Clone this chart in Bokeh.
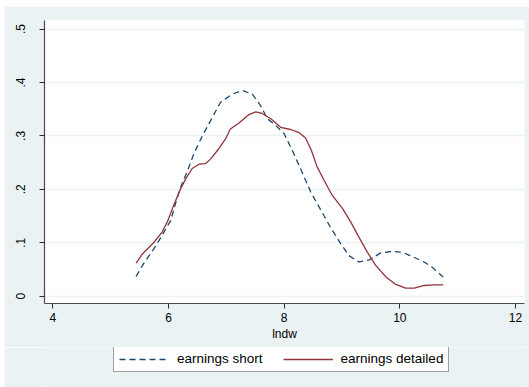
from bokeh.plotting import figure
from bokeh.layouts import column
from bokeh.models import Range1d, FixedTicker, Legend, LegendItem
from bokeh.embed import file_html
from bokeh.resources import INLINE

# earnings short (dashed, navy)
short_x = [5.44, 5.57, 5.75, 5.89, 6.04, 6.12, 6.21, 6.33, 6.44, 6.59, 6.73, 6.90, 7.10, 7.28, 7.45,
           7.59, 7.71, 7.85, 8.00, 8.14, 8.29, 8.46, 8.63, 8.80, 8.98, 9.12, 9.29, 9.47, 9.67, 9.87,
           10.05, 10.22, 10.42, 10.56, 10.75]
short_y = [0.037, 0.061, 0.089, 0.114, 0.142, 0.173, 0.204, 0.235, 0.267, 0.301, 0.329, 0.363, 0.378,
           0.385, 0.378, 0.357, 0.332, 0.320, 0.304, 0.273, 0.237, 0.195, 0.162, 0.129, 0.098, 0.076,
           0.064, 0.068, 0.081, 0.084, 0.082, 0.074, 0.064, 0.054, 0.036]

# earnings detailed (solid, maroon)
det_x = [5.44, 5.55, 5.75, 5.89, 5.98, 6.09, 6.21, 6.30, 6.41, 6.53, 6.64, 6.73, 6.87, 6.99, 7.07,
         7.22, 7.39, 7.51, 7.62, 7.77, 7.94, 8.11, 8.26, 8.37, 8.47, 8.57, 8.69, 8.83, 9.01, 9.15,
         9.29, 9.44, 9.58, 9.76, 9.93, 10.10, 10.25, 10.42, 10.59, 10.75]
det_y = [0.062, 0.079, 0.101, 0.120, 0.139, 0.170, 0.201, 0.220, 0.239, 0.247, 0.248, 0.257, 0.276,
         0.295, 0.313, 0.324, 0.340, 0.345, 0.342, 0.332, 0.316, 0.312, 0.306, 0.296, 0.273, 0.242,
         0.217, 0.189, 0.164, 0.139, 0.111, 0.082, 0.058, 0.036, 0.022, 0.015, 0.015, 0.020, 0.021,
         0.021]

x_ticks = [4, 6, 8, 10, 12]
y_ticks = [0, 0.1, 0.2, 0.3, 0.4, 0.5]
y_tick_labels = ["0", ".1", ".2", ".3", ".4", ".5"]

series_labels = ["earnings short", "earnings detailed"]
x_label = "lndw"

BG = "#eaf2f3"
NAVY = "#1a476f"
MAROON = "#90353b"
FONT = "Liberation Sans"
SHORT_STYLE = dict(line_color=NAVY, line_width=1.3, line_dash="6 4")
DET_STYLE = dict(line_color=MAROON, line_width=1.3)

p = figure(width=525, height=341, output_backend="svg", toolbar_location=None,
           x_range=Range1d(3.856, 12.156), y_range=Range1d(-0.0137, 0.516),
           min_border_left=40, min_border_top=14, min_border_right=5, min_border_bottom=44)
p.background_fill_color = "white"
p.border_fill_color = BG
p.outline_line_color = None

p.line(short_x, short_y, **SHORT_STYLE)
p.line(det_x, det_y, **DET_STYLE)

p.xaxis.ticker = FixedTicker(ticks=x_ticks)
p.yaxis.ticker = FixedTicker(ticks=y_ticks)
p.yaxis.major_label_overrides = {t: l for t, l in zip(y_ticks, y_tick_labels)}
p.yaxis.major_label_orientation = "vertical"
p.xaxis.axis_label = x_label

for ax in (p.xaxis, p.yaxis):
    ax.axis_line_color = "#4a4a4a"
    ax.axis_line_width = 1.2
    ax.major_tick_line_color = "#2a2a2a"
    ax.major_tick_in = 0
    ax.major_tick_out = 5
    ax.minor_tick_line_color = None
    ax.major_label_text_font = FONT
    ax.major_label_text_font_size = "12px"
    ax.major_label_text_color = "black"
    ax.axis_label_text_font = FONT
    ax.axis_label_text_font_size = "12px"
    ax.axis_label_text_font_style = "normal"
    ax.axis_label_text_color = "black"
p.xaxis.major_label_standoff = 4
p.yaxis.major_label_standoff = 14
p.xaxis.axis_label_standoff = 2

p.xgrid.grid_line_color = None
p.ygrid.grid_line_color = BG
p.ygrid.grid_line_width = 1.5

# legend strip below the plot (its frame is aligned with the plot's frame;
# the key lines lie outside this strip's ranges, so only the legend shows)
lg = figure(width=525, height=40, output_backend="svg", toolbar_location=None,
            x_range=Range1d(100, 101), y_range=Range1d(100, 101),
            x_axis_type=None, y_axis_type=None,
            min_border_left=0, min_border_right=0, min_border_top=0, min_border_bottom=0)
lg.background_fill_color = BG
lg.border_fill_color = BG
lg.outline_line_color = None
lg.grid.visible = False
k1 = lg.line(short_x, short_y, **SHORT_STYLE)
k2 = lg.line(det_x, det_y, **DET_STYLE)

legend = Legend(items=[LegendItem(label=series_labels[0], renderers=[k1]),
                       LegendItem(label=series_labels[1], renderers=[k2])],
                orientation="horizontal", location=(69, 15),
                glyph_width=50, glyph_height=12, label_standoff=8, spacing=20,
                padding=5, margin=0,
                border_line_color="#404040", border_line_width=1,
                background_fill_color="white", background_fill_alpha=1,
                label_text_font=FONT, label_text_font_size="13.5px", label_text_color="black")
lg.add_layout(legend, "center")

layout = column(p, lg, spacing=0, margin=(6, 0, 0, 4))

open("out.html", "w").write(file_html(layout, INLINE))
